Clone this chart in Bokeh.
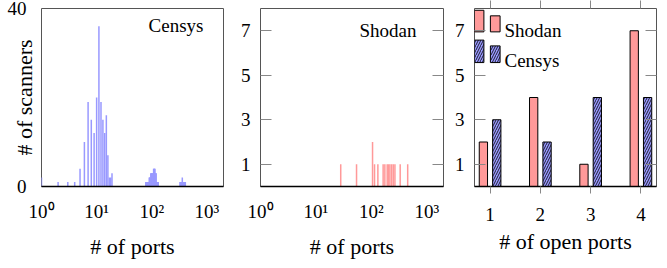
from bokeh.plotting import figure
from bokeh.layouts import row
from bokeh.models import ColumnDataSource, FixedTicker, LinearAxis, Label, Range1d
from bokeh.transform import dodge
from bokeh.embed import file_html
from bokeh.resources import INLINE

FONT = "Liberation Serif"
BLUE = "#9999ff"
RED = "#ff9999"
FRAME = "#555555"
TICK = "#888888"
TICK_FS = "19px"
LABEL_FS = "22px"
NOTE_FS = "19px"

# ---- data -------------------------------------------------------------
# Censys: number of ports probed -> number of scanners
censys_ports = [1, 2, 3, 4, 5, 6, 7, 8, 9, 10, 11, 12, 13, 14, 15, 16, 17, 18, 19,
                78, 80, 82, 84, 86, 88, 90, 92, 94, 96, 98, 100, 102, 104, 106,
                108, 110, 112, 114, 116, 118, 120, 122, 125, 128, 131,
                325, 333, 341, 349, 358, 367, 376, 386, 396, 406]
censys_counts = [2, 1, 1, 1, 4, 10, 19, 15, 12, 20, 36, 19, 15, 12, 16, 7, 2, 2, 3,
                 1, 1, 1, 1, 1, 1, 2, 2, 2, 3, 3, 3, 3, 3, 3,
                 4, 4, 4, 4, 3, 3, 3, 1, 1, 1, 1,
                 1, 1, 1, 1, 2, 1, 1, 1, 1, 1]
# Shodan: number of ports probed -> number of scanners
shodan_ports = [28, 54, 105, 114, 131, 163, 175, 193, 204, 216, 232, 248, 266, 331, 452]
shodan_counts = [1, 1, 2, 1, 1, 1, 1, 1, 1, 1, 1, 1, 1, 1, 1]
# number of open ports
open_ports = [1, 2, 3, 4]
shodan_open = [2, 4, 1, 7]
censys_open = [3, 2, 4, 4]

log_ticks = [1, 10, 100, 1000]
log_labels = ["10⁰", "10¹", "10²", "10³"]
count_ticks = [1, 3, 5, 7]
censys_yticks = [0, 40]

FRAME_H = 178
TOP = 8


def base_style(p):
    p.outline_line_color = FRAME
    p.outline_line_width = 1
    p.xgrid.grid_line_color = None
    p.ygrid.grid_line_color = None
    p.background_fill_color = "white"
    p.border_fill_color = "white"


def axis_style(ax):
    ax.major_label_text_font = FONT
    ax.major_label_text_font_size = TICK_FS
    ax.major_label_text_color = "black"
    ax.axis_label_text_font = FONT
    ax.axis_label_text_font_size = LABEL_FS
    ax.axis_label_text_font_style = "normal"
    ax.axis_label_text_color = "black"
    ax.minor_tick_line_color = None
    ax.minor_tick_out = 0
    ax.minor_tick_in = 0


def hidden_axis(ticks, tin, tout, color=TICK):
    return LinearAxis(ticker=FixedTicker(ticks=ticks), major_tick_in=tin,
                      major_tick_out=tout, major_tick_line_color=color,
                      major_label_text_font_size="0px", major_label_standoff=0,
                      axis_line_color=None, minor_tick_line_color=None,
                      minor_tick_out=0, minor_tick_in=0)


def hist_panel(ports, counts, color, yticks, ymax, name, name_x, name_y,
               left, right, fw, first):
    p = figure(x_axis_type="log", x_range=Range1d(1, 2000), y_range=Range1d(0, ymax),
               frame_width=fw, frame_height=FRAME_H, min_border_left=left,
               min_border_right=right, min_border_top=TOP, min_border_bottom=10,
               output_backend="svg", toolbar_location=None)
    base_style(p)
    src = ColumnDataSource(dict(x=ports, y=counts))
    p.segment(x0="x", y0=0, x1="x", y1="y", source=src, line_color=color,
              line_width=1.5, line_cap="butt")
    xa = p.xaxis[0]
    axis_style(xa)
    xa.ticker = FixedTicker(ticks=log_ticks)
    xa.major_label_overrides = dict(zip(log_ticks, log_labels))
    xa.major_tick_line_color = None
    xa.axis_line_color = "black"
    xa.axis_line_width = 1.5
    xa.major_label_standoff = 8
    xa.axis_label = "# of ports"
    xa.axis_label_standoff = 9
    ya = p.yaxis[0]
    axis_style(ya)
    ya.ticker = FixedTicker(ticks=yticks)
    ya.axis_line_color = None
    if first:
        ya.major_tick_line_color = None
        ya.major_label_standoff = 9
        ya.axis_label = "# of scanners"
        ya.axis_label_standoff = -32
        # empty spacer axis further out, keeps the frame where the reference has it
        p.add_layout(hidden_axis(yticks, 0, 8, color=None), "left")
    else:
        ya.major_tick_in = 11
        ya.major_tick_out = 0
        ya.major_tick_line_color = TICK
        ya.major_label_standoff = 10
        p.add_layout(hidden_axis(yticks, 11, 0), "right")
    p.add_layout(Label(x=name_x, y=name_y, x_units="screen", y_units="screen",
                       text=name, text_font=FONT, text_font_size=NOTE_FS,
                       text_align="right", text_baseline="alphabetic",
                       text_color="black"))
    return p


p1 = hist_panel(censys_ports, censys_counts, BLUE, censys_yticks, 40, "Censys",
                162, 161, 33, 14, 182, True)
p2 = hist_panel(shodan_ports, shodan_counts, RED, count_ticks, 8, "Shodan",
                156, 156, 20, 8, 183, False)

# ---- bar chart of open ports -------------------------------------------
p3 = figure(x_range=Range1d(0.69, 4.31), y_range=Range1d(0, 8),
            frame_width=182, frame_height=FRAME_H, min_border_left=20,
            min_border_right=4, min_border_top=TOP, min_border_bottom=10,
            output_backend="svg", toolbar_location=None)
base_style(p3)
src3 = ColumnDataSource(dict(x=open_ports, shodan=shodan_open, censys=censys_open))
p3.vbar(x=dodge("x", -0.133, range=p3.x_range), top="shodan", width=0.165,
        source=src3, fill_color=RED, line_color="black", line_width=1)
p3.vbar(x=dodge("x", 0.133, range=p3.x_range), top="censys", width=0.165,
        source=src3, fill_color=BLUE, line_color="black", line_width=1,
        hatch_pattern="/", hatch_color="black", hatch_scale=5, hatch_weight=0.8)

# legend icons (two small bars each, pgfplots ybar style)
p3.quad(left=[0.69, 1.006], right=[0.877, 1.199], bottom=[6.95, 6.95],
        top=[7.92, 7.67], fill_color=RED, line_color="black", line_width=1)
p3.quad(left=[0.69, 1.006], right=[0.877, 1.199], bottom=[5.57, 5.57],
        top=[6.58, 6.32], fill_color=BLUE, line_color="black", line_width=1,
        hatch_pattern="/", hatch_color="black", hatch_scale=5, hatch_weight=0.8)
p3.add_layout(Label(x=30, y=156, x_units="screen", y_units="screen", text="Shodan",
                    text_font=FONT, text_font_size=NOTE_FS, text_baseline="alphabetic",
                    text_color="black"))
p3.add_layout(Label(x=30, y=126, x_units="screen", y_units="screen", text="Censys",
                    text_font=FONT, text_font_size=NOTE_FS, text_baseline="alphabetic",
                    text_color="black"))

xa3 = p3.xaxis[0]
axis_style(xa3)
xa3.ticker = FixedTicker(ticks=open_ports)
xa3.major_tick_out = 7
xa3.major_tick_in = 0
xa3.major_tick_line_color = TICK
xa3.axis_line_color = "black"
xa3.axis_line_width = 1.5
xa3.major_label_standoff = 14
xa3.axis_label = "# of open ports"
xa3.axis_label_standoff = 5
ya3 = p3.yaxis[0]
axis_style(ya3)
ya3.ticker = FixedTicker(ticks=count_ticks)
ya3.major_tick_in = 11
ya3.major_tick_out = 0
ya3.major_tick_line_color = TICK
ya3.axis_line_color = None
ya3.major_label_standoff = 10
p3.add_layout(hidden_axis(count_ticks, 11, 0), "right")
p3.add_layout(hidden_axis(open_ports, 0, 8), "above")

layout = row(p1, p2, p3)
open("out.html", "w").write(file_html(layout, INLINE))
